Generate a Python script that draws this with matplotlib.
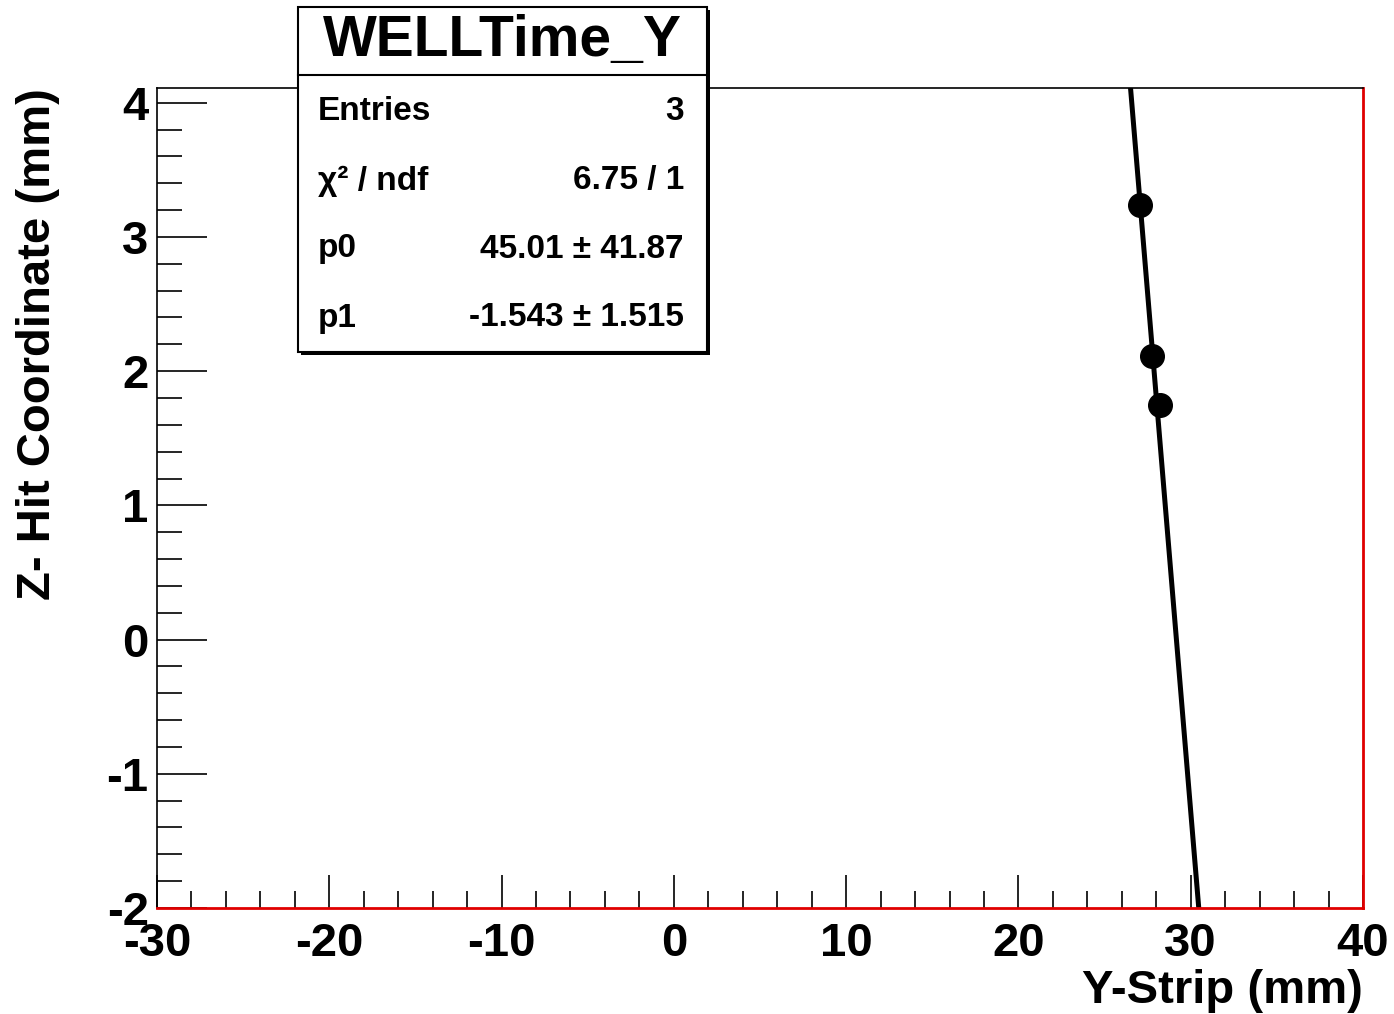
import matplotlib
matplotlib.use("Agg")
import matplotlib.pyplot as plt
import numpy as np
from matplotlib.patches import Rectangle
from matplotlib.ticker import MultipleLocator

# hit positions and straight-line fit
y_strip = np.array([27.05, 27.77, 28.21])
z_hit = np.array([3.24, 2.11, 1.75])
p0, p0_err = 45.01, 41.87
p1, p1_err = -1.543, 1.515
chi2, ndf = 6.75, 1
entries = 3

plt.rcParams['font.family'] = ['Liberation Sans', 'DejaVu Sans']
plt.rcParams['font.weight'] = 'bold'
plt.rcParams['axes.unicode_minus'] = False

W, H = 1394, 1014
def fx(px): return px / W
def fy(py): return 1 - py / H

fig = plt.figure(figsize=(13.94, 10.14), dpi=100)
ax = fig.add_axes([fx(157), fy(908), (1363-157)/W, (908-88)/H])

xfit = np.linspace(25, 32, 50)
ax.plot(xfit, p0 + p1 * xfit, color='black', lw=3.6, zorder=2)
ax.plot(y_strip, z_hit, 'o', color='black', ms=17, zorder=3)

ax.set_xlim(-30, 40)
ax.set_ylim(-2, 4.11)
ax.xaxis.set_major_locator(MultipleLocator(10))
ax.xaxis.set_minor_locator(MultipleLocator(2))
ax.yaxis.set_major_locator(MultipleLocator(1))
ax.yaxis.set_minor_locator(MultipleLocator(0.2))
ax.tick_params(which='both', direction='in', top=False, right=False, width=1.2)
ax.tick_params(axis='x', which='major', length=24, labelsize=34, pad=10)
ax.tick_params(axis='x', which='minor', length=12)
ax.tick_params(axis='y', which='major', length=36, labelsize=34, pad=6)
ax.tick_params(axis='y', which='minor', length=18)
for lbl in ax.get_xticklabels() + ax.get_yticklabels():
    lbl.set_fontweight('bold')

for side in ['left', 'top']:
    ax.spines[side].set_color('black')
    ax.spines[side].set_linewidth(1.2)
for side in ['bottom', 'right']:
    ax.spines[side].set_color('#e00000')
    ax.spines[side].set_linewidth(2)

ax.set_xlabel('Y-Strip (mm)', fontsize=34, fontweight='bold', loc='right', labelpad=2)
fig.text(fx(38), fy(88), 'Z- Hit Coordinate (mm)', fontsize=34, fontweight='bold',
         rotation=90, ha='center', va='top')

# stats box with title
x0, x1 = 298, 707
ytop, ymid, ybot = 7, 75, 352
fig.patches.append(Rectangle((fx(x0 + 3), fy(ybot + 3)), fx(x1 - x0), (ybot - ytop) / H,
                             transform=fig.transFigure, facecolor='black', edgecolor='none', zorder=9))
fig.patches.append(Rectangle((fx(x0), fy(ybot)), fx(x1 - x0), (ybot - ytop) / H,
                             transform=fig.transFigure, facecolor='white', edgecolor='black', lw=1.5, zorder=10))
fig.add_artist(plt.Line2D([fx(x0), fx(x1)], [fy(ymid), fy(ymid)], transform=fig.transFigure,
                          color='black', lw=1.5, zorder=11))
fig.text(fx((x0 + x1) / 2), fy(41), 'WELLTime_Y', fontsize=41, fontweight='bold',
         ha='center', va='center', zorder=12)

rows = [
    ('Entries', f'{entries}'),
    ('χ² / ndf', f'{chi2:.2f} / {ndf}'),
    ('p0', f'{p0:.2f} ± {p0_err:.2f}'),
    ('p1', f'{p1:.3f} ± {p1_err:.3f}'),
]
row_y = [112, 181, 249, 318]
for (name, val), ry in zip(rows, row_y):
    fig.text(fx(318), fy(ry), name, fontsize=24, fontweight='bold', ha='left', va='center', zorder=12)
    fig.text(fx(684), fy(ry), val, fontsize=24, fontweight='bold', ha='right', va='center', zorder=12)

fig.savefig('out.png', dpi=100)
